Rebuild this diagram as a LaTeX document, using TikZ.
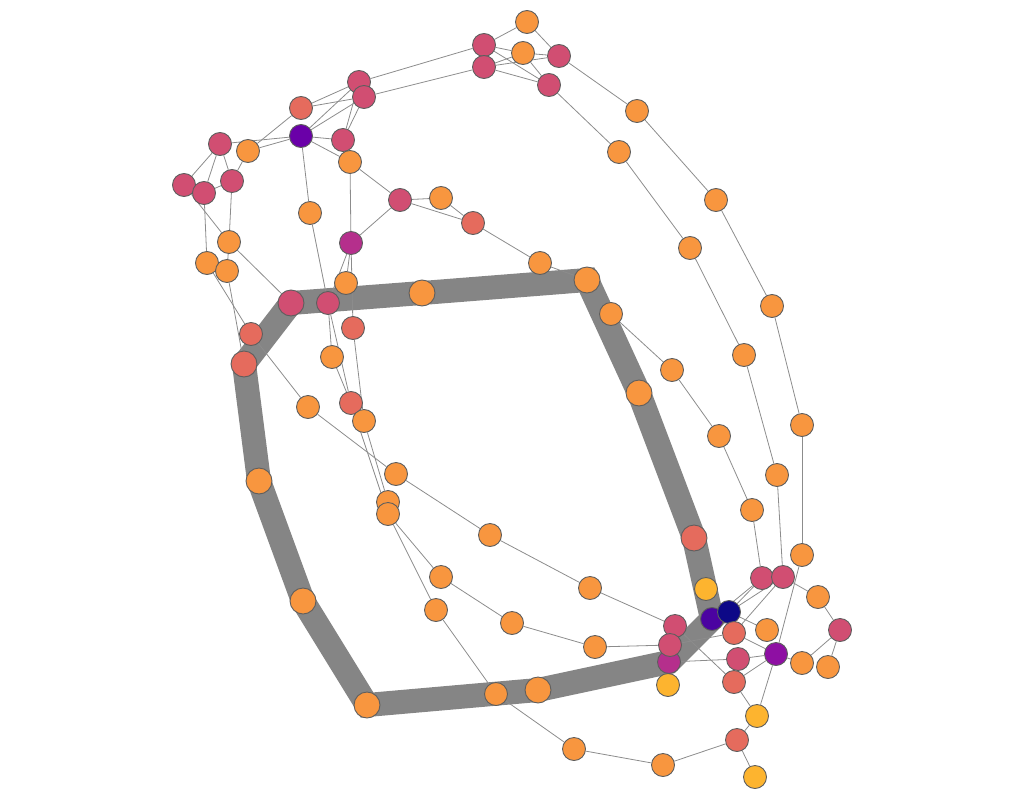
\documentclass[tikz,border=0pt]{standalone}
\usepackage{tikz}
\usetikzlibrary{backgrounds}
\definecolor{corange}{HTML}{F8963F}
\definecolor{ccoral}{HTML}{E56B5D}
\definecolor{cpink}{HTML}{D14E72}
\definecolor{cmagenta}{HTML}{B52F8C}
\definecolor{cpurple}{HTML}{8E0FA3}
\definecolor{cviolet}{HTML}{6A00A8}
\definecolor{cindigo}{HTML}{4B03A1}
\definecolor{cnavy}{HTML}{0D0887}
\definecolor{cyellow}{HTML}{FDB42F}
\definecolor{ring}{HTML}{5E5E5E}
\definecolor{wire}{HTML}{8C8C8C}

\begin{document}
\begin{tikzpicture}[x=1pt,y=-1pt]
\tikzset{vertex/.style = {shape=circle,draw=ring,line width=0.9pt,minimum size=23pt,inner sep=0pt}}
\tikzset{big/.style = {minimum size=26pt}}
\tikzset{edge/.style = {draw=wire,line width=0.8pt}}
\tikzset{band/.style = {draw=wire!95!black,line width=24pt,line join=miter}}
\useasboundingbox (0,0) rectangle (1024,800);

% top cluster
\node[vertex, fill=corange] (t1) at (527,22) {};
\node[vertex, fill=cpink] (t2) at (484,45) {};
\node[vertex, fill=corange] (t3) at (523,53) {};
\node[vertex, fill=cpink] (t4) at (559,56) {};
\node[vertex, fill=cpink] (t5) at (484,67) {};
\node[vertex, fill=cpink] (t6) at (549,85) {};

% right arcs
\node[vertex, fill=corange] (a1) at (637,111) {};
\node[vertex, fill=corange] (a2) at (716,200) {};
\node[vertex, fill=corange] (a3) at (772,306) {};
\node[vertex, fill=corange] (a4) at (802,425) {};
\node[vertex, fill=corange] (a5) at (802,555) {};
\node[vertex, fill=corange] (b1) at (619,152) {};
\node[vertex, fill=corange] (b2) at (690,248) {};
\node[vertex, fill=corange] (b3) at (744,355) {};
\node[vertex, fill=corange] (b4) at (777,475) {};
\node[vertex, fill=corange] (c1) at (611,314) {};
\node[vertex, fill=corange] (c2) at (672,370) {};
\node[vertex, fill=corange] (c3) at (719,436) {};
\node[vertex, fill=corange] (c4) at (752,510) {};

% top left
\node[vertex, fill=cpink] (k1) at (359,82) {};
\node[vertex, fill=cpink] (k2) at (364,97) {};
\node[vertex, fill=ccoral] (k3) at (301,108) {};
\node[vertex, fill=cviolet] (k4) at (301,136) {};
\node[vertex, fill=cpink] (k5) at (343,140) {};
\node[vertex, fill=corange] (k6) at (350,162) {};
\node[vertex, fill=cpink] (k7) at (220,144) {};
\node[vertex, fill=corange] (k8) at (248,151) {};
\node[vertex, fill=cpink] (k9) at (184,185) {};
\node[vertex, fill=cpink] (k10) at (204,193) {};
\node[vertex, fill=cpink] (k11) at (232,181) {};
\node[vertex, fill=corange] (k12) at (310,213) {};
\node[vertex, fill=cpink] (k13) at (400,200) {};
\node[vertex, fill=corange] (k14) at (441,198) {};
\node[vertex, fill=ccoral] (k15) at (473,223) {};
\node[vertex, fill=corange] (k16) at (540,263) {};
\node[vertex, fill=cmagenta] (k17) at (351,243) {};
\node[vertex, fill=corange] (k18) at (229,242) {};
\node[vertex, fill=corange] (k19) at (207,263) {};
\node[vertex, fill=corange] (k20) at (227,271) {};

% ring
\node[vertex, big, fill=ccoral] (r1) at (244,364) {};
\node[vertex, fill=ccoral] (r2) at (251,334) {};
\node[vertex, big, fill=cpink] (r3) at (291,303) {};
\node[vertex, fill=cpink] (r4) at (328,303) {};
\node[vertex, fill=corange] (r5) at (346,283) {};
\node[vertex, big, fill=corange] (r6) at (422,293) {};
\node[vertex, big, fill=corange] (r7) at (587,280) {};
\node[vertex, big, fill=corange] (r8) at (639,393) {};
\node[vertex, big, fill=ccoral] (r9) at (694,538) {};
\node[vertex, big, fill=corange] (r10) at (538,690) {};
\node[vertex, fill=corange] (r11) at (496,694) {};
\node[vertex, big, fill=corange] (r12) at (367,705) {};
\node[vertex, big, fill=corange] (r13) at (303,601) {};
\node[vertex, big, fill=corange] (r14) at (259,481) {};

% middle
\node[vertex, fill=ccoral] (m1) at (353,328) {};
\node[vertex, fill=corange] (m2) at (332,357) {};
\node[vertex, fill=ccoral] (m3) at (351,403) {};
\node[vertex, fill=corange] (m4) at (364,421) {};
\node[vertex, fill=corange] (m5) at (308,407) {};
\node[vertex, fill=corange] (m6) at (396,474) {};
\node[vertex, fill=corange] (m7) at (388,502) {};
\node[vertex, fill=corange] (m8) at (388,514) {};
\node[vertex, fill=corange] (m9) at (490,535) {};
\node[vertex, fill=corange] (m10) at (590,588) {};
\node[vertex, fill=corange] (m11) at (441,577) {};
\node[vertex, fill=corange] (m12) at (436,610) {};
\node[vertex, fill=corange] (m13) at (512,623) {};
\node[vertex, fill=corange] (m14) at (595,647) {};
\node[vertex, fill=corange] (m15) at (574,749) {};
\node[vertex, fill=corange] (m16) at (663,765) {};

% bottom right cluster
\node[vertex, fill=cyellow] (q1) at (706,589) {};
\node[vertex, fill=cpink] (q4) at (675,626) {};
\node[vertex, fill=cyellow] (q7) at (668,685) {};
\node[vertex, fill=cmagenta] (q6) at (669,662) {};
\node[vertex, fill=cpink] (q5) at (670,645) {};
\node[vertex, fill=cindigo] (q2) at (712,619) {};
\node[vertex, fill=cnavy] (q3) at (729,612) {};
\node[vertex, fill=cpink] (q8) at (762,578) {};
\node[vertex, fill=cpink] (q9) at (783,577) {};
\node[vertex, fill=ccoral] (q10) at (734,633) {};
\node[vertex, fill=corange] (q11) at (767,630) {};
\node[vertex, fill=cpurple] (q12) at (776,654) {};
\node[vertex, fill=cpink] (q13) at (738,659) {};
\node[vertex, fill=ccoral] (q14) at (734,682) {};
\node[vertex, fill=corange] (q15) at (818,597) {};
\node[vertex, fill=cpink] (q16) at (840,630) {};
\node[vertex, fill=corange] (q17) at (802,663) {};
\node[vertex, fill=corange] (q18) at (828,667) {};
\node[vertex, fill=cyellow] (q19) at (757,716) {};
\node[vertex, fill=ccoral] (q20) at (737,740) {};
\node[vertex, fill=cyellow] (q21) at (755,777) {};

\begin{scope}[on background layer]
\draw[band] (r1.center) -- (r3.center) -- (r6.center) -- (r7.center) -- (r8.center) -- (r9.center) -- (q2.center) -- (q6.center) -- (r10.center) -- (r12.center) -- (r13.center) -- (r14.center) -- cycle;

\draw[edge] (t1) to (t2);
\draw[edge] (t1) to (t4);
\draw[edge] (t2) to (t3);
\draw[edge] (t2) to (t6);
\draw[edge] (t3) to (t4);
\draw[edge] (t5) to (t3);
\draw[edge] (t5) to (t4);
\draw[edge] (t5) to (t6);
\draw[edge] (t3) to (t6);
\draw[edge] (t2) to (k1);
\draw[edge] (t5) to (k2);
\draw[edge] (t4) to (a1);
\draw[edge] (t6) to (b1);

\draw[edge] (a1) to (a2);
\draw[edge] (a2) to (a3);
\draw[edge] (a3) to (a4);
\draw[edge] (a4) to (a5);
\draw[edge] (a5) to (q12);
\draw[edge] (b1) to (b2);
\draw[edge] (b2) to (b3);
\draw[edge] (b3) to (b4);
\draw[edge] (b4) to (q9);
\draw[edge] (c1) to (c2);
\draw[edge] (c2) to (c3);
\draw[edge] (c3) to (c4);
\draw[edge] (c4) to (q8);

\draw[edge] (k3) to (k1);
\draw[edge] (k3) to (k2);
\draw[edge] (k3) to (k8);
\draw[edge] (k4) to (k1);
\draw[edge] (k4) to (k2);
\draw[edge] (k4) to (k5);
\draw[edge] (k4) to (k6);
\draw[edge] (k4) to (k7);
\draw[edge] (k4) to (k8);
\draw[edge] (k4) to (k12);
\draw[edge] (k5) to (k1);
\draw[edge] (k5) to (k2);
\draw[edge] (k5) to (k6);
\draw[edge] (k6) to (k13);
\draw[edge] (k6) to (k17);
\draw[edge] (k13) to (k14);
\draw[edge] (k13) to (k15);
\draw[edge] (k14) to (k15);
\draw[edge] (k15) to (k16);
\draw[edge] (k16) to (r7);
\draw[edge] (k13) to (k17);
\draw[edge] (k7) to (k9);
\draw[edge] (k7) to (k10);
\draw[edge] (k7) to (k11);
\draw[edge] (k9) to (k10);
\draw[edge] (k10) to (k11);
\draw[edge] (k11) to (k8);
\draw[edge] (k11) to (k18);
\draw[edge] (k10) to (k19);
\draw[edge] (k9) to (k18);
\draw[edge] (k18) to (k20);
\draw[edge] (k18) to (r3);
\draw[edge] (k19) to (r2);
\draw[edge] (r2) to (m5);
\draw[edge] (k20) to (r1);
\draw[edge] (k12) to (r4);
\draw[edge] (k17) to (r4);
\draw[edge] (k17) to (r5);
\draw[edge] (k17) to (m1);

\draw[edge] (r4) to (m2);
\draw[edge] (r4) to (m3);
\draw[edge] (m2) to (m3);
\draw[edge] (m1) to (m4);
\draw[edge] (m3) to (m8);
\draw[edge] (m4) to (m7);
\draw[edge] (m5) to (m6);
\draw[edge] (m6) to (m9);
\draw[edge] (m9) to (m10);
\draw[edge] (m10) to (q4);
\draw[edge] (m8) to (m11);
\draw[edge] (m8) to (m12);
\draw[edge] (m11) to (m13);
\draw[edge] (m13) to (m14);
\draw[edge] (m14) to (q5);
\draw[edge] (m12) to (r11);
\draw[edge] (r11) to (m15);
\draw[edge] (m15) to (m16);
\draw[edge] (m16) to (q20);
\draw[edge] (q20) to (q19);
\draw[edge] (q20) to (q21);

\draw[edge] (q8) to (q9);
\draw[edge] (q9) to (q15);
\draw[edge] (q15) to (q16);
\draw[edge] (q16) to (q18);
\draw[edge] (q16) to (q17);
\draw[edge] (q12) to (q17);
\draw[edge] (q12) to (q13);
\draw[edge] (q12) to (q14);
\draw[edge] (q12) to (q19);
\draw[edge] (q12) to (q10);
\draw[edge] (q8) to (q3);
\draw[edge] (q9) to (q3);
\draw[edge] (q9) to (q10);
\draw[edge] (q8) to (q2);
\draw[edge] (q3) to (q11);
\draw[edge] (q6) to (q13);
\draw[edge] (q4) to (q14);
\draw[edge] (q5) to (q10);
\draw[edge] (q14) to (q19);
\end{scope}
\end{tikzpicture}
\end{document}
